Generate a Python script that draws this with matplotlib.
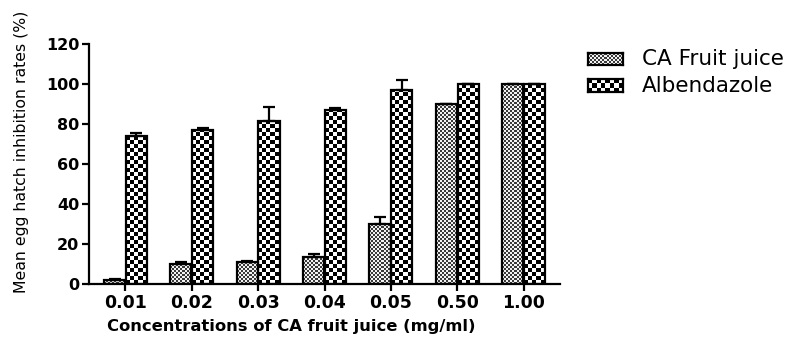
import numpy as np
import matplotlib
matplotlib.use("Agg")
import matplotlib.pyplot as plt

plt.rcParams['font.family'] = ['DejaVu Sans']

categories = ["0.01", "0.02", "0.03", "0.04", "0.05", "0.50", "1.00"]
ca_values = [2, 10, 11, 13.5, 30, 90, 100]
ca_errors = [0.6, 0.8, 0.5, 1.5, 3.5, 0, 0]
alb_values = [74, 77, 81.5, 87, 97, 100, 100]
alb_errors = [1.5, 1.0, 7.0, 1.0, 5.0, 0, 0]
series_labels = ["CA Fruit juice", "Albendazole"]

W, H = 798, 337
fig = plt.figure(figsize=(W / 100, H / 100), dpi=100)
ax_l, ax_r, ax_t, ax_b = 89, 560, 44, 284
ax = fig.add_axes([ax_l / W, (H - ax_b) / H, (ax_r - ax_l) / W, (ax_b - ax_t) / H])

xlim = (-0.55, 6.55)
ylim = (0, 120)
ax.set_xlim(*xlim)
ax.set_ylim(*ylim)
px_per_x = (ax_r - ax_l) / (xlim[1] - xlim[0])
px_per_y = (ax_b - ax_t) / (ylim[1] - ylim[0])

x = np.arange(len(categories))
bw = 0.32
off = 0.165


def checker(ax, patch, cell_px, c1, c2):
    x0, y0 = patch.get_x(), patch.get_y()
    w, h = patch.get_width(), patch.get_height()
    if h <= 0:
        return
    dx = cell_px / px_per_x
    dy = cell_px / px_per_y
    nc = int(np.ceil(w / dx)) + 1
    nr = int(np.ceil(h / dy)) + 1
    arr = (np.add.outer(np.arange(nr), np.arange(nc)) % 2).astype(float)
    cmap = matplotlib.colors.ListedColormap([c1, c2])
    im = ax.imshow(arr, extent=(x0, x0 + nc * dx, y0, y0 + nr * dy), origin='lower',
                   cmap=cmap, interpolation='nearest', aspect='auto', zorder=2)
    im.set_clip_path(patch)


bars_ca = ax.bar(x - off, ca_values, bw, facecolor='none', edgecolor='black', linewidth=1.6, zorder=3)
bars_alb = ax.bar(x + off, alb_values, bw, facecolor='none', edgecolor='black', linewidth=1.6, zorder=3)
for b in bars_ca:
    checker(ax, b, 2, '#3a3a3a', '#f2f2f2')
for b in bars_alb:
    checker(ax, b, 4, 'black', 'white')
ax.set_xlim(*xlim)
ax.set_ylim(*ylim)

ax.errorbar(x - off, ca_values, yerr=[np.zeros(len(x)), ca_errors], fmt='none',
            ecolor='black', elinewidth=1.6, capsize=4, capthick=1.6, zorder=4)
ax.errorbar(x + off, alb_values, yerr=[np.zeros(len(x)), alb_errors], fmt='none',
            ecolor='black', elinewidth=1.6, capsize=4, capthick=1.6, zorder=4)

for s in ['top', 'right']:
    ax.spines[s].set_visible(False)
for s in ['left', 'bottom']:
    ax.spines[s].set_linewidth(1.6)

ax.set_xticks(x)
ax.set_xticklabels(categories, fontweight='bold', fontsize=12.5)
ax.set_yticks(np.arange(0, 121, 20))
ax.set_yticklabels([str(v) for v in range(0, 121, 20)], fontweight='bold', fontsize=11.5)
ax.tick_params(axis='both', width=1.6, length=5, direction='out', pad=2)

ax.set_xlabel("Concentrations of CA fruit juice (mg/ml)", fontweight='bold', fontsize=11.8)
ax.set_ylabel("Mean egg hatch inhibition rates (%)", fontsize=11.3)

# place axis labels in figure pixel coordinates
ax.xaxis.set_label_coords(291 / W, 1 - 327 / H, transform=fig.transFigure)
ax.yaxis.set_label_coords(22 / W, 1 - 152 / H, transform=fig.transFigure)
ax.xaxis.label.set_va('center')
ax.yaxis.label.set_va('center')

# legend swatches
leg_rows = [(53, 65), (79, 92)]
for (yt, yb), lab, cell, c1, c2 in zip(leg_rows, series_labels, [2, 4],
                                        ['#3a3a3a', 'black'], ['#f2f2f2', 'white']):
    sax = fig.add_axes([588 / W, (H - yb) / H, 35 / W, (yb - yt) / H])
    nr = max(1, (yb - yt) // cell)
    nc = 35 // cell
    arr = (np.add.outer(np.arange(nr), np.arange(nc)) % 2).astype(float)
    sax.imshow(arr, cmap=matplotlib.colors.ListedColormap([c1, c2]), interpolation='nearest',
               aspect='auto')
    sax.set_xticks([])
    sax.set_yticks([])
    for sp in sax.spines.values():
        sp.set_linewidth(1.6)
    fig.text(642 / W, 1 - ((yt + yb) / 2) / H, lab, fontsize=15.5, va='center', ha='left')

fig.savefig("out.png", dpi=100)
